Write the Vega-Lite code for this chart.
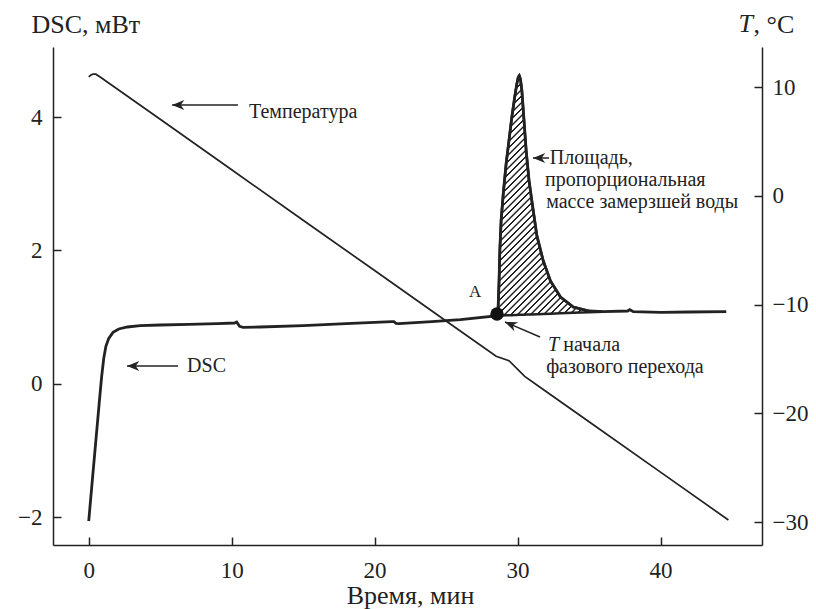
{
"$schema":"https://vega.github.io/schema/vega-lite/v6.json",
"width":709,"height":498,
"autosize":{"type":"none"},
"padding":{"left":53,"top":47,"right":54,"bottom":64},
"background":"white",
"config":{"view":{"stroke":null},
"axis":{"grid":false,"labelFont":"'Liberation Serif', 'Times New Roman', 'DejaVu Serif', serif","labelFontSize":23,"labelColor":"#222","titleFont":"'Liberation Serif', 'Times New Roman', 'DejaVu Serif', serif","titleFontSize":26,"titleFontWeight":"normal","titleColor":"#222","domainColor":"#222","domainWidth":1.5,"tickColor":"#222","tickWidth":1.5,"tickSize":-8,"format":"d","labelOverlap":false,"labelFlush":false},
"text":{"font":"'Liberation Serif', 'Times New Roman', 'DejaVu Serif', serif"}},
"datasets":{
"dsc":[{"t":0,"v":-2.06},{"t":0.25,"v":-1.45},{"t":0.5,"v":-0.85},{"t":0.75,"v":-0.25},{"t":0.9,"v":0.1},{"t":1.05,"v":0.38},{"t":1.2,"v":0.56},{"t":1.4,"v":0.68},{"t":1.7,"v":0.77},{"t":2.1,"v":0.82},{"t":2.7,"v":0.85},{"t":3.6,"v":0.87},{"t":5,"v":0.88},{"t":7,"v":0.89},{"t":9,"v":0.9},{"t":10.2,"v":0.91},{"t":10.35,"v":0.925},{"t":10.55,"v":0.86},{"t":10.8,"v":0.845},{"t":12,"v":0.85},{"t":15,"v":0.87},{"t":18,"v":0.9},{"t":21.2,"v":0.93},{"t":21.35,"v":0.93},{"t":21.5,"v":0.905},{"t":21.7,"v":0.9},{"t":24,"v":0.93},{"t":26,"v":0.96},{"t":28.62,"v":1.02},{"t":28.7,"v":1.5},{"t":28.76,"v":2.0},{"t":28.85,"v":2.45},{"t":29.0,"v":2.85},{"t":29.2,"v":3.3},{"t":29.4,"v":3.65},{"t":29.6,"v":4.0},{"t":29.8,"v":4.3},{"t":29.95,"v":4.5},{"t":30.05,"v":4.6},{"t":30.12,"v":4.62},{"t":30.2,"v":4.57},{"t":30.3,"v":4.4},{"t":30.45,"v":3.95},{"t":30.6,"v":3.5},{"t":30.8,"v":3.05},{"t":31.0,"v":2.74},{"t":31.35,"v":2.22},{"t":31.8,"v":1.84},{"t":32.3,"v":1.54},{"t":33.0,"v":1.3},{"t":33.9,"v":1.15},{"t":35.0,"v":1.09},{"t":36.0,"v":1.08},{"t":37.7,"v":1.09},{"t":37.85,"v":1.11},{"t":38.1,"v":1.08},{"t":40,"v":1.07},{"t":42,"v":1.075},{"t":44.6,"v":1.08}],
"hatch":[{"t":28.62,"v":1.02,"base":1.02},{"t":28.7,"v":1.5,"base":1.021},{"t":28.76,"v":2.0,"base":1.021},{"t":28.85,"v":2.45,"base":1.022},{"t":29.0,"v":2.85,"base":1.023},{"t":29.2,"v":3.3,"base":1.025},{"t":29.4,"v":3.65,"base":1.026},{"t":29.6,"v":4.0,"base":1.028},{"t":29.8,"v":4.3,"base":1.03},{"t":29.95,"v":4.5,"base":1.031},{"t":30.05,"v":4.6,"base":1.032},{"t":30.12,"v":4.62,"base":1.032},{"t":30.2,"v":4.57,"base":1.033},{"t":30.3,"v":4.4,"base":1.034},{"t":30.45,"v":3.95,"base":1.035},{"t":30.6,"v":3.5,"base":1.036},{"t":30.8,"v":3.05,"base":1.038},{"t":31.0,"v":2.74,"base":1.039},{"t":31.35,"v":2.22,"base":1.042},{"t":31.8,"v":1.84,"base":1.046},{"t":32.3,"v":1.54,"base":1.05},{"t":33.0,"v":1.3,"base":1.056},{"t":33.9,"v":1.15,"base":1.063},{"t":35.0,"v":1.09,"base":1.072},{"t":36.0,"v":1.08,"base":1.08}],
"temp":[{"t":0,"T":10.95},{"t":0.15,"T":11.12},{"t":0.3,"T":11.2},{"t":0.5,"T":11.2},{"t":0.8,"T":10.94},{"t":5,"T":7.05},{"t":10,"T":2.41},{"t":15,"T":-2.23},{"t":20,"T":-6.86},{"t":25,"T":-11.5},{"t":28.5,"T":-14.74},{"t":29.4,"T":-15.15},{"t":30.5,"T":-16.6},{"t":31.5,"T":-17.52},{"t":35,"T":-20.77},{"t":40,"T":-25.4},{"t":44.75,"T":-29.8}],
"labels":[{"t":11.21,"v":4.075,"text":"Температура"},{"t":6.88,"v":0.265,"text":"DSC"},{"t":32.26,"v":3.385,"text":"Площадь,"},{"t":31.92,"v":3.055,"text":"пропорциональная"},{"t":32.0,"v":2.725,"text":"массе замерзшей воды"},{"t":33.2,"v":0.58,"text":"начала"},{"t":32.0,"v":0.25,"text":"фазового перехода"}],
"arrows":[{"t":5.83,"v":4.18,"t2":10.44,"v2":4.18},{"t":2.68,"v":0.265,"t2":6.25,"v2":0.265},{"t":31.08,"v":3.385,"t2":32.2,"v2":3.385},{"t":29.12,"v":0.925,"t2":31.57,"v2":0.7}]
},
"encoding":{"x":{"field":"t","type":"quantitative","scale":{"domain":[-2.5,47.1],"nice":false,"zero":false},
"axis":{"values":[0,10,20,30,40],"labelPadding":22,"title":"Время, мин","titleX":357,"titleY":58,"titleAlign":"center","titleBaseline":"alphabetic"}}},
"layer":[
{"encoding":{"y":{"field":"v","type":"quantitative","scale":{"domain":[-2.42,5.05],"nice":false,"zero":false},
"axis":{"orient":"left","values":[-2,0,2,4],"labelPadding":19,"title":"DSC, мВт","titleAngle":0,"titleX":-22,"titleY":-15,"titleAlign":"left","titleBaseline":"alphabetic"}}},
"layer":[
{"data":{"name":"hatch"},"mark":{"type":"area","stroke":"#222","strokeWidth":2.5,"opacity":1,"fill":{"gradient":"linear","x1":0,"y1":0,"x2":0.9977,"y2":2.2698,"stops":[
{"offset":0,"color":"#fff"},{"offset":0.0058,"color":"#fff"},{"offset":0.0068,"color":"#222"},{"offset":0.0088,"color":"#222"},
{"offset":0.01,"color":"#fff"},{"offset":0.0158,"color":"#fff"},{"offset":0.0168,"color":"#222"},{"offset":0.0188,"color":"#222"},
{"offset":0.02,"color":"#fff"},{"offset":0.0258,"color":"#fff"},{"offset":0.0268,"color":"#222"},{"offset":0.0288,"color":"#222"},
{"offset":0.03,"color":"#fff"},{"offset":0.0358,"color":"#fff"},{"offset":0.0368,"color":"#222"},{"offset":0.0388,"color":"#222"},
{"offset":0.04,"color":"#fff"},{"offset":0.0458,"color":"#fff"},{"offset":0.0468,"color":"#222"},{"offset":0.0488,"color":"#222"},
{"offset":0.05,"color":"#fff"},{"offset":0.0558,"color":"#fff"},{"offset":0.0568,"color":"#222"},{"offset":0.0588,"color":"#222"},
{"offset":0.06,"color":"#fff"},{"offset":0.0658,"color":"#fff"},{"offset":0.0668,"color":"#222"},{"offset":0.0688,"color":"#222"},
{"offset":0.07,"color":"#fff"},{"offset":0.0758,"color":"#fff"},{"offset":0.0768,"color":"#222"},{"offset":0.0788,"color":"#222"},
{"offset":0.08,"color":"#fff"},{"offset":0.0858,"color":"#fff"},{"offset":0.0868,"color":"#222"},{"offset":0.0888,"color":"#222"},
{"offset":0.09,"color":"#fff"},{"offset":0.0958,"color":"#fff"},{"offset":0.0968,"color":"#222"},{"offset":0.0988,"color":"#222"},
{"offset":0.10,"color":"#fff"},{"offset":0.1058,"color":"#fff"},{"offset":0.1068,"color":"#222"},{"offset":0.1088,"color":"#222"},
{"offset":0.11,"color":"#fff"},{"offset":0.1158,"color":"#fff"},{"offset":0.1168,"color":"#222"},{"offset":0.1188,"color":"#222"},
{"offset":0.12,"color":"#fff"},{"offset":0.1258,"color":"#fff"},{"offset":0.1268,"color":"#222"},{"offset":0.1288,"color":"#222"},
{"offset":0.13,"color":"#fff"},{"offset":0.1358,"color":"#fff"},{"offset":0.1368,"color":"#222"},{"offset":0.1388,"color":"#222"},
{"offset":0.14,"color":"#fff"},{"offset":0.1458,"color":"#fff"},{"offset":0.1468,"color":"#222"},{"offset":0.1488,"color":"#222"},
{"offset":0.15,"color":"#fff"},{"offset":0.1558,"color":"#fff"},{"offset":0.1568,"color":"#222"},{"offset":0.1588,"color":"#222"},
{"offset":0.16,"color":"#fff"},{"offset":0.1658,"color":"#fff"},{"offset":0.1668,"color":"#222"},{"offset":0.1688,"color":"#222"},
{"offset":0.17,"color":"#fff"},{"offset":0.1758,"color":"#fff"},{"offset":0.1768,"color":"#222"},{"offset":0.1788,"color":"#222"},
{"offset":0.18,"color":"#fff"},{"offset":0.1858,"color":"#fff"},{"offset":0.1868,"color":"#222"},{"offset":0.1888,"color":"#222"},
{"offset":0.19,"color":"#fff"},{"offset":0.1958,"color":"#fff"},{"offset":0.1968,"color":"#222"},{"offset":0.1988,"color":"#222"},
{"offset":0.20,"color":"#fff"},{"offset":0.2058,"color":"#fff"},{"offset":0.2068,"color":"#222"},{"offset":0.2088,"color":"#222"},
{"offset":0.21,"color":"#fff"},{"offset":0.2158,"color":"#fff"},{"offset":0.2168,"color":"#222"},{"offset":0.2188,"color":"#222"},
{"offset":0.22,"color":"#fff"},{"offset":0.2258,"color":"#fff"},{"offset":0.2268,"color":"#222"},{"offset":0.2288,"color":"#222"},
{"offset":0.23,"color":"#fff"},{"offset":0.2358,"color":"#fff"},{"offset":0.2368,"color":"#222"},{"offset":0.2388,"color":"#222"},
{"offset":0.24,"color":"#fff"},{"offset":0.2458,"color":"#fff"},{"offset":0.2468,"color":"#222"},{"offset":0.2488,"color":"#222"},
{"offset":0.25,"color":"#fff"},{"offset":0.2558,"color":"#fff"},{"offset":0.2568,"color":"#222"},{"offset":0.2588,"color":"#222"},
{"offset":0.26,"color":"#fff"},{"offset":0.2658,"color":"#fff"},{"offset":0.2668,"color":"#222"},{"offset":0.2688,"color":"#222"},
{"offset":0.27,"color":"#fff"},{"offset":0.2758,"color":"#fff"},{"offset":0.2768,"color":"#222"},{"offset":0.2788,"color":"#222"},
{"offset":0.28,"color":"#fff"},{"offset":0.2858,"color":"#fff"},{"offset":0.2868,"color":"#222"},{"offset":0.2888,"color":"#222"},
{"offset":0.29,"color":"#fff"},{"offset":0.2958,"color":"#fff"},{"offset":0.2968,"color":"#222"},{"offset":0.2988,"color":"#222"},
{"offset":0.30,"color":"#fff"},{"offset":0.3058,"color":"#fff"},{"offset":0.3068,"color":"#222"},{"offset":0.3088,"color":"#222"},
{"offset":0.31,"color":"#fff"},{"offset":0.3158,"color":"#fff"},{"offset":0.3168,"color":"#222"},{"offset":0.3188,"color":"#222"},
{"offset":0.32,"color":"#fff"},{"offset":0.3258,"color":"#fff"},{"offset":0.3268,"color":"#222"},{"offset":0.3288,"color":"#222"},
{"offset":0.33,"color":"#fff"},{"offset":0.3358,"color":"#fff"},{"offset":0.3368,"color":"#222"},{"offset":0.3388,"color":"#222"},
{"offset":0.34,"color":"#fff"},{"offset":0.3458,"color":"#fff"},{"offset":0.3468,"color":"#222"},{"offset":0.3488,"color":"#222"},
{"offset":0.35,"color":"#fff"},{"offset":0.3558,"color":"#fff"},{"offset":0.3568,"color":"#222"},{"offset":0.3588,"color":"#222"},
{"offset":0.36,"color":"#fff"},{"offset":0.3658,"color":"#fff"},{"offset":0.3668,"color":"#222"},{"offset":0.3688,"color":"#222"},
{"offset":0.37,"color":"#fff"},{"offset":0.3758,"color":"#fff"},{"offset":0.3768,"color":"#222"},{"offset":0.3788,"color":"#222"},
{"offset":0.38,"color":"#fff"},{"offset":0.3858,"color":"#fff"},{"offset":0.3868,"color":"#222"},{"offset":0.3888,"color":"#222"},
{"offset":0.39,"color":"#fff"},{"offset":0.3958,"color":"#fff"},{"offset":0.3968,"color":"#222"},{"offset":0.3988,"color":"#222"},
{"offset":0.40,"color":"#fff"},{"offset":0.4058,"color":"#fff"},{"offset":0.4068,"color":"#222"},{"offset":0.4088,"color":"#222"},
{"offset":0.41,"color":"#fff"},{"offset":0.4158,"color":"#fff"},{"offset":0.4168,"color":"#222"},{"offset":0.4188,"color":"#222"},
{"offset":0.42,"color":"#fff"},{"offset":0.4258,"color":"#fff"},{"offset":0.4268,"color":"#222"},{"offset":0.4288,"color":"#222"},
{"offset":0.43,"color":"#fff"},{"offset":0.4358,"color":"#fff"},{"offset":0.4368,"color":"#222"},{"offset":0.4388,"color":"#222"},
{"offset":0.44,"color":"#fff"},{"offset":0.4458,"color":"#fff"},{"offset":0.4468,"color":"#222"},{"offset":0.4488,"color":"#222"},
{"offset":0.45,"color":"#fff"},{"offset":0.4558,"color":"#fff"},{"offset":0.4568,"color":"#222"},{"offset":0.4588,"color":"#222"},
{"offset":0.46,"color":"#fff"},{"offset":0.4658,"color":"#fff"},{"offset":0.4668,"color":"#222"},{"offset":0.4688,"color":"#222"},
{"offset":0.47,"color":"#fff"},{"offset":0.4758,"color":"#fff"},{"offset":0.4768,"color":"#222"},{"offset":0.4788,"color":"#222"},
{"offset":0.48,"color":"#fff"},{"offset":0.4858,"color":"#fff"},{"offset":0.4868,"color":"#222"},{"offset":0.4888,"color":"#222"},
{"offset":0.49,"color":"#fff"},{"offset":0.4958,"color":"#fff"},{"offset":0.4968,"color":"#222"},{"offset":0.4988,"color":"#222"},
{"offset":0.50,"color":"#fff"},{"offset":0.5058,"color":"#fff"},{"offset":0.5068,"color":"#222"},{"offset":0.5088,"color":"#222"},
{"offset":0.51,"color":"#fff"},{"offset":0.5158,"color":"#fff"},{"offset":0.5168,"color":"#222"},{"offset":0.5188,"color":"#222"},
{"offset":0.52,"color":"#fff"},{"offset":0.5258,"color":"#fff"},{"offset":0.5268,"color":"#222"},{"offset":0.5288,"color":"#222"},
{"offset":0.53,"color":"#fff"},{"offset":0.5358,"color":"#fff"},{"offset":0.5368,"color":"#222"},{"offset":0.5388,"color":"#222"},
{"offset":0.54,"color":"#fff"},{"offset":0.5458,"color":"#fff"},{"offset":0.5468,"color":"#222"},{"offset":0.5488,"color":"#222"},
{"offset":0.55,"color":"#fff"},{"offset":1,"color":"#fff"}]}},
"encoding":{"y2":{"field":"base"}}},
{"data":{"name":"dsc"},"mark":{"type":"line","color":"#222","strokeWidth":2.8}},
{"data":{"name":"arrows"},"mark":{"type":"rule","color":"#222","strokeWidth":1.5},"encoding":{"x2":{"field":"t2"},"y2":{"field":"v2"}}},
{"data":{"values":[{"t":5.83,"v":4.18},{"t":2.68,"v":0.265},{"t":31.08,"v":3.385}]},"mark":{"type":"point","shape":"M0,0L2,-0.8L1.4,0L2,0.8Z","filled":true,"size":150,"color":"#222","opacity":1,"strokeWidth":0}},
{"data":{"values":[{"t":29.12,"v":0.925}]},"mark":{"type":"point","shape":"M0,0L2,-0.8L1.4,0L2,0.8Z","filled":true,"size":150,"color":"#222","opacity":1,"strokeWidth":0,"angle":23}},
{"data":{"values":[{"t":28.56,"v":1.045}]},"mark":{"type":"point","shape":"circle","filled":true,"size":180,"color":"#111","opacity":1}},
{"data":{"name":"labels"},"mark":{"type":"text","fontSize":20,"align":"left","baseline":"middle","color":"#222"},"encoding":{"text":{"field":"text"}}},
{"data":{"values":[{"t":32.13,"v":0.58,"text":"T"}]},"mark":{"type":"text","fontSize":20,"fontStyle":"italic","align":"left","baseline":"middle","color":"#222"},"encoding":{"text":{"field":"text"}}},
{"data":{"values":[{"t":27.03,"v":1.375,"text":"A"}]},"mark":{"type":"text","fontSize":17,"align":"center","baseline":"middle","color":"#222"},"encoding":{"text":{"field":"text"}}},
{"data":{"values":[{"t":45.45,"v":5.279,"text":"T"}]},"mark":{"type":"text","fontSize":26,"fontStyle":"italic","align":"left","baseline":"alphabetic","color":"#222"},"encoding":{"text":{"field":"text"}}}
]},
{"data":{"name":"temp"},"mark":{"type":"line","color":"#222","strokeWidth":1.7},
"encoding":{"y":{"field":"T","type":"quantitative","scale":{"domain":[-32.1,13.7],"nice":false,"zero":false},
"axis":{"orient":"right","values":[-30,-20,-10,0,10],"labelPadding":18,"title":", °C","titleAngle":0,"titleX":-9,"titleY":-15,"titleAlign":"left","titleBaseline":"alphabetic"}}}}
],
"resolve":{"scale":{"y":"independent"},"axis":{"y":"independent"}}
}
